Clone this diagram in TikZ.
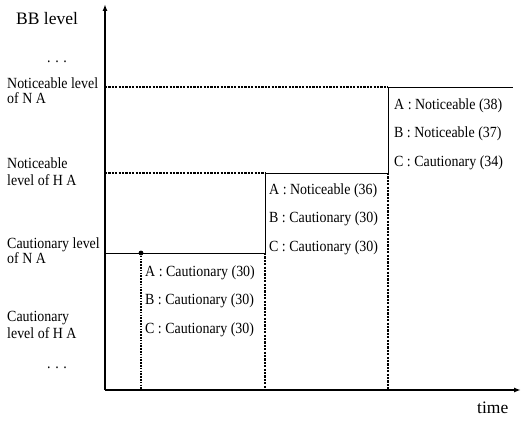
\documentclass[tikz,border=0pt]{standalone}
\usepackage{fontspec}
\setmainfont{Liberation Serif}
\newfontfamily\condfont{Liberation Serif}[FakeStretch=0.9]
\usetikzlibrary{arrows.meta}
\begin{document}
\begin{tikzpicture}[x=1pt,y=-1pt,
  axis/.style={line width=1.4pt,-{Latex[length=7pt,width=5pt]}},
  solidline/.style={line width=1pt},
  dashline/.style={line width=1.1pt,dash pattern=on 2.2pt off 1.2pt},
  dotline/.style={line width=1.5pt,dash pattern=on 1.6pt off 1.2pt},
  lbl/.style={inner sep=0pt,anchor=base west,align=left,font=\condfont\fontsize{15.5}{16}\selectfont},
  big/.style={inner sep=0pt,anchor=base west,font=\fontsize{17.5}{20}\selectfont},
  state/.style={inner sep=0pt,anchor=base west,align=left,font=\condfont\fontsize{15.5}{28.2}\selectfont}]
\useasboundingbox (0,0) rectangle (521,420);
% axes
\coordinate (O) at (105,390);
\coordinate (ytop) at (105,4);
\coordinate (xend) at (521,390);
\draw[axis] (O) -- (ytop);
\draw[axis] (O) -- (xend);
% level coordinates
\coordinate (nNAl) at (105,87);
\coordinate (nNAm) at (388,87);
\coordinate (nNAr) at (513,87);
\coordinate (nHAl) at (105,173);
\coordinate (nHAm) at (265,173);
\coordinate (nHAr) at (388,173);
\coordinate (cNAl) at (105,253);
\coordinate (cNAm) at (141,253);
\coordinate (cNAr) at (265,253);
\coordinate (b1) at (141,390);
\coordinate (b2) at (265,390);
\coordinate (b3) at (388,390);
% level lines
\draw[dashline] (nNAl) -- (nNAm);
\draw[solidline] (nNAm) -- (nNAr);
\draw[dashline] (nHAl) -- (nHAm);
\draw[solidline] (nHAm) -- (nHAr);
\draw[solidline] (cNAl) -- (cNAr);
% verticals
\draw[dotline] (cNAm) -- (b1);
\fill (cNAm) circle (2.4pt);
\draw[solidline] (nHAm) -- (cNAr);
\draw[dashline] (cNAr) -- (b2);
\draw[solidline] (nNAm) -- (nHAr);
\draw[dashline] (nHAr) -- (b3);
% axis labels
\node[big] (ylab) at (16,25) {BB level};
\node[big] (xlab) at (477,413) {time};
\node[lbl] (dtop) at (47,63) {. . .};
\node[lbl] (dbot) at (47,368) {. . .};
\node[lbl] (lnNA) at (7,103) {Noticeable level\\[-1pt]of N A};
\node[lbl] (lnHA) at (7,185) {Noticeable\\[1pt]level of H A};
\node[lbl] (lcNA) at (7,263) {Cautionary level\\[-1pt]of N A};
\node[lbl] (lcHA) at (7,338) {Cautionary\\[1pt]level of H A};
% state texts
\node[state] (s1) at (145,333) {A : Cautionary (30)\\B : Cautionary (30)\\C : Cautionary (30)};
\node[state] (s2) at (269,251) {A : Noticeable (36)\\B : Cautionary (30)\\C : Cautionary (30)};
\node[state] (s3) at (394,166) {A : Noticeable (38)\\B : Noticeable (37)\\C : Cautionary (34)};
\end{tikzpicture}
\end{document}
